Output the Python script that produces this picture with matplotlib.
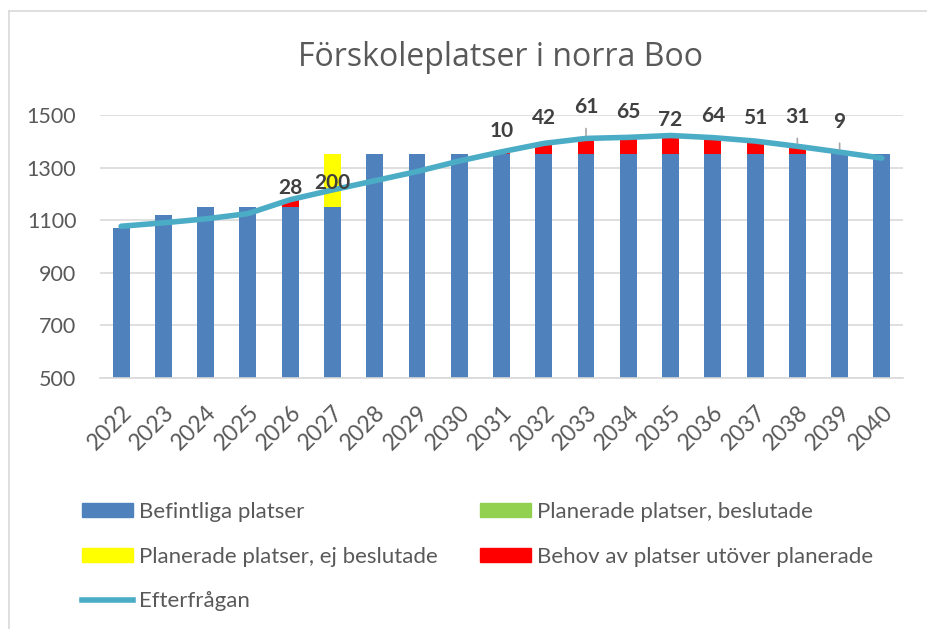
import numpy as np
import matplotlib.pyplot as plt
from matplotlib.patches import Patch
from matplotlib.lines import Line2D

years = [str(y) for y in range(2022, 2041)]
befintliga = [1070, 1120, 1150, 1150, 1150, 1150, 1350, 1350, 1350, 1350,
              1350, 1350, 1350, 1350, 1350, 1350, 1350, 1350, 1350]
beslutade = [0] * 19
ej_beslutade = [0, 0, 0, 0, 0, 200, 0, 0, 0, 0, 0, 0, 0, 0, 0, 0, 0, 0, 0]
behov = [0, 0, 0, 0, 28, 0, 0, 0, 0, 10, 42, 61, 65, 72, 64, 51, 31, 9, 0]
efterfragan = [1077, 1090, 1105, 1125, 1178, 1215, 1250, 1285, 1325, 1360,
               1392, 1411, 1415, 1422, 1414, 1401, 1381, 1359, 1336]

# label offsets above the demand line (px) and which get a leader line
label_up = [0, 0, 0, 0, 12, 7, 0, 0, 0, 21, 25, 31, 25, 16, 22, 23, 29, 30, 0]
leader = [2033, 2038, 2039]

blue = '#4F81BD'
green = '#92D050'
yellow = '#FFFF00'
red = '#FF0000'
line_c = '#4BACC6'
txt = '#595959'

fig = plt.figure(figsize=(9.27, 6.29), dpi=100)
ax = fig.add_axes([100 / 927, 1 - 378 / 629, 803 / 927, 263 / 629])

x = np.arange(len(years))
w = 0.4
b0 = np.array(befintliga)
b1 = b0 + np.array(beslutade)
b2 = b1 + np.array(ej_beslutade)
ax.bar(x, befintliga, w, color=blue, zorder=2)
ax.bar(x, beslutade, w, bottom=b0, color=green, zorder=2)
ax.bar(x, ej_beslutade, w, bottom=b1, color=yellow, zorder=2)
ax.bar(x, behov, w, bottom=b2, color=red, zorder=2)
ax.plot(x, efterfragan, color=line_c, lw=4, solid_capstyle='round', zorder=3)

for i in range(len(years)):
    v = ej_beslutade[i] if ej_beslutade[i] else behov[i]
    if not v:
        continue
    up = label_up[i] * 0.72
    arrow = None
    if int(years[i]) in leader:
        arrow = dict(arrowstyle='-', color='#A6A6A6', lw=1.2, shrinkA=6, shrinkB=2)
    ax.annotate(str(v), (x[i], efterfragan[i]), xytext=(0, up), textcoords='offset points',
                ha='center', va='center', fontsize=15, fontweight='bold', family='Lato',
                color='#404040', zorder=5, annotation_clip=False, arrowprops=arrow)

ax.set_xlim(-0.5, len(years) - 0.5)
ax.set_ylim(500, 1500)
ax.set_yticks([500, 700, 900, 1100, 1300, 1500])
ax.set_xticks(x)
ax.set_xticklabels(years, rotation=45, ha='right', rotation_mode='anchor')
ax.grid(axis='y', color='#D9D9D9', lw=1.2, zorder=0)
for s in ['left', 'right', 'top']:
    ax.spines[s].set_visible(False)
ax.spines['bottom'].set_color('#D9D9D9')
ax.spines['bottom'].set_linewidth(1.2)
ax.tick_params(axis='both', length=0, labelcolor=txt)
ax.tick_params(axis='y', pad=17, labelsize=15.5)
ax.tick_params(axis='x', pad=17, labelsize=16.5)
for lab in ax.get_xticklabels() + ax.get_yticklabels():
    lab.set_family('Lato')

fig.text(501 / 927, 1 - 58 / 629, 'Förskoleplatser i norra Boo', ha='center', va='center',
         fontsize=23, family='Open Sans', color='#595959')

# chart border (left and top only visible)
fig.add_artist(Line2D([9 / 927, 9 / 927], [0, 1 - 11 / 629], color='#D9D9D9', lw=1.2))
fig.add_artist(Line2D([9 / 927, 1], [1 - 11 / 629, 1 - 11 / 629], color='#D9D9D9', lw=1.2))

handles = [Patch(color=blue, label='Befintliga platser'),
           Patch(color=yellow, label='Planerade platser, ej beslutade'),
           Line2D([], [], color=line_c, lw=4, label='Efterfrågan'),
           Patch(color=green, label='Planerade platser, beslutade'),
           Patch(color=red, label='Behov av platser utöver planerade')]
leg = fig.legend(handles=handles, ncol=2, loc='upper left', bbox_to_anchor=(75 / 927, 1 - 495 / 629),
                 frameon=False, prop={'family': 'Lato', 'size': 16}, handlelength=2.3,
                 handleheight=0.6, handletextpad=0.27, columnspacing=1.9, labelspacing=1.12,
                 borderaxespad=0, borderpad=0.3)
for t in leg.get_texts():
    t.set_color(txt)

fig.savefig('out.png', dpi=100)
